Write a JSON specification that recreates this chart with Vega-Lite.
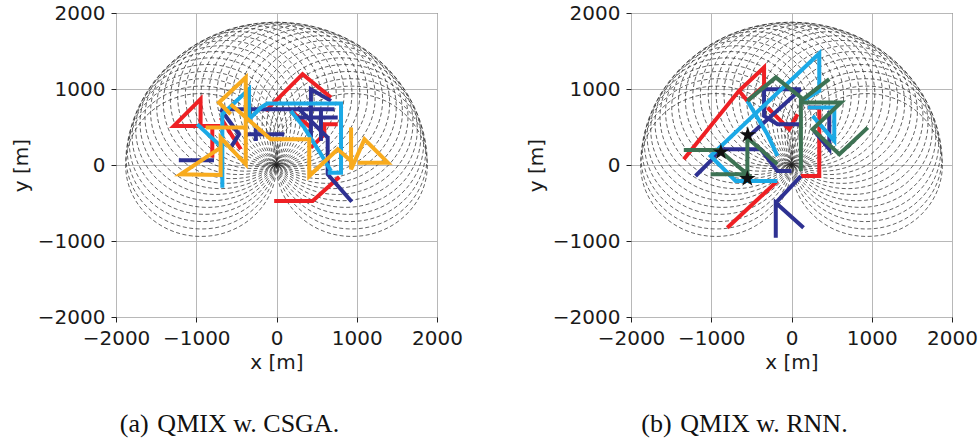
{
"$schema": "https://vega.github.io/schema/vega-lite/v6.json",
"padding": {"left": 10, "top": 2, "right": 5, "bottom": 5},
"bounds": "flush",
"spacing": 194,
"config": {
  "font": "DejaVu Sans",
  "view": {"stroke": "#333333", "strokeWidth": 1},
  "axis": {"grid": true, "gridColor": "#b8b8b8", "gridWidth": 1, "domain": false, "tickColor": "#222222", "tickSize": 5, "labelPadding": 6, "labelFontSize": 20, "labelColor": "#1a1a1a", "titleFontSize": 20, "titleFontWeight": "normal", "titleColor": "#1a1a1a", "labelFlush": false, "labelOverlap": false}
},
"datasets": {
  "circles": [
    {"cx":940,"cy":0,"r":940},{"cx":934.9,"cy":98.3,"r":940},{"cx":919.4,"cy":195.4,"r":940},{"cx":894,"cy":290.5,"r":940},{"cx":858.7,"cy":382.3,"r":940},{"cx":814.1,"cy":470,"r":940},{"cx":760.5,"cy":552.5,"r":940},{"cx":698.5,"cy":629,"r":940},{"cx":629,"cy":698.5,"r":940},{"cx":552.5,"cy":760.5,"r":940},{"cx":470,"cy":814.1,"r":940},{"cx":382.3,"cy":858.7,"r":940},{"cx":290.5,"cy":894,"r":940},{"cx":195.4,"cy":919.4,"r":940},{"cx":98.3,"cy":934.9,"r":940},{"cx":0,"cy":940,"r":940},
    {"cx":-98.3,"cy":934.9,"r":940},{"cx":-195.4,"cy":919.4,"r":940},{"cx":-290.5,"cy":894,"r":940},{"cx":-382.3,"cy":858.7,"r":940},{"cx":-470,"cy":814.1,"r":940},{"cx":-552.5,"cy":760.5,"r":940},{"cx":-629,"cy":698.5,"r":940},{"cx":-698.5,"cy":629,"r":940},{"cx":-760.5,"cy":552.5,"r":940},{"cx":-814.1,"cy":470,"r":940},{"cx":-858.7,"cy":382.3,"r":940},{"cx":-894,"cy":290.5,"r":940},{"cx":-919.4,"cy":195.4,"r":940},{"cx":-934.9,"cy":98.3,"r":940},{"cx":-940,"cy":0,"r":940}
  ],
  "stars": [{"x":-545,"y":395},{"x":-880,"y":170},{"x":-550,"y":-180}],
  "traj": [
    {"p":"a","s":"a1","a":"A1","i":0,"x":-29,"y":-475},{"p":"a","s":"a1","a":"A1","i":1,"x":450,"y":-475},{"p":"a","s":"a1","a":"A1","i":2,"x":783,"y":-158},
    {"p":"a","s":"a2","a":"A1","i":0,"x":429,"y":229},{"p":"a","s":"a2","a":"A1","i":1,"x":596,"y":404},{"p":"a","s":"a2","a":"A1","i":2,"x":596,"y":536},{"p":"a","s":"a2","a":"A1","i":3,"x":763,"y":536},
    {"p":"a","s":"a3","a":"A1","i":0,"x":179,"y":712},{"p":"a","s":"a3","a":"A1","i":1,"x":429,"y":492},
    {"p":"a","s":"a4","a":"A1","i":0,"x":-133,"y":712},{"p":"a","s":"a4","a":"A1","i":1,"x":325,"y":1196},{"p":"a","s":"a4","a":"A1","i":2,"x":679,"y":888},
    {"p":"a","s":"a5","a":"A1","i":0,"x":-696,"y":514},{"p":"a","s":"a5","a":"A1","i":1,"x":-1279,"y":514},{"p":"a","s":"a5","a":"A1","i":2,"x":-946,"y":866},{"p":"a","s":"a5","a":"A1","i":3,"x":-946,"y":514},
    {"p":"a","s":"a6","a":"A1","i":0,"x":-800,"y":514},{"p":"a","s":"a6","a":"A1","i":1,"x":-800,"y":97},
    {"p":"a","s":"a7","a":"A1","i":0,"x":-696,"y":624},{"p":"a","s":"a7","a":"A1","i":1,"x":-446,"y":207},
    {"p":"a","s":"a8","a":"A2","i":0,"x":-1217,"y":62},{"p":"a","s":"a8","a":"A2","i":1,"x":-779,"y":62},
    {"p":"a","s":"a9","a":"A2","i":0,"x":-696,"y":734},{"p":"a","s":"a9","a":"A2","i":1,"x":721,"y":734},
    {"p":"a","s":"a10","a":"A2","i":0,"x":679,"y":844},{"p":"a","s":"a10","a":"A2","i":1,"x":429,"y":998},{"p":"a","s":"a10","a":"A2","i":2,"x":429,"y":360},
    {"p":"a","s":"a11","a":"A2","i":0,"x":554,"y":734},{"p":"a","s":"a11","a":"A2","i":1,"x":554,"y":317},
    {"p":"a","s":"a12","a":"A2","i":0,"x":263,"y":624},{"p":"a","s":"a12","a":"A2","i":1,"x":763,"y":624},
    {"p":"a","s":"a13","a":"A2","i":0,"x":263,"y":756},{"p":"a","s":"a13","a":"A2","i":1,"x":638,"y":360},{"p":"a","s":"a13","a":"A2","i":2,"x":638,"y":-123},{"p":"a","s":"a13","a":"A2","i":3,"x":938,"y":-484},
    {"p":"a","s":"a14","a":"A2","i":0,"x":-383,"y":404},{"p":"a","s":"a14","a":"A2","i":1,"x":96,"y":404},
    {"p":"a","s":"a15","a":"A2","i":0,"x":-258,"y":492},{"p":"a","s":"a15","a":"A2","i":1,"x":-258,"y":316},
    {"p":"a","s":"a16","a":"A2","i":0,"x":-696,"y":734},{"p":"a","s":"a16","a":"A2","i":1,"x":-467,"y":404},{"p":"a","s":"a16","a":"A2","i":2,"x":-571,"y":229},
    {"p":"a","s":"a17","a":"A3","i":0,"x":-675,"y":-299},{"p":"a","s":"a17","a":"A3","i":1,"x":-675,"y":668},{"p":"a","s":"a17","a":"A3","i":2,"x":-342,"y":998},{"p":"a","s":"a17","a":"A3","i":3,"x":-342,"y":602},{"p":"a","s":"a17","a":"A3","i":4,"x":-196,"y":756},{"p":"a","s":"a17","a":"A3","i":5,"x":-113,"y":809},{"p":"a","s":"a17","a":"A3","i":6,"x":804,"y":809},{"p":"a","s":"a17","a":"A3","i":7,"x":804,"y":-101},{"p":"a","s":"a17","a":"A3","i":8,"x":638,"y":-101},
    {"p":"a","s":"a18","a":"A3","i":0,"x":-988,"y":536},{"p":"a","s":"a18","a":"A3","i":1,"x":-675,"y":229},
    {"p":"a","s":"a19","a":"A3","i":0,"x":179,"y":712},{"p":"a","s":"a19","a":"A3","i":1,"x":346,"y":492},{"p":"a","s":"a19","a":"A3","i":2,"x":554,"y":141},{"p":"a","s":"a19","a":"A3","i":3,"x":679,"y":-79},
    {"p":"a","s":"a20","a":"A4","i":0,"x":-696,"y":229},{"p":"a","s":"a20","a":"A4","i":1,"x":-1196,"y":-123},{"p":"a","s":"a20","a":"A4","i":2,"x":-696,"y":-132},{"p":"a","s":"a20","a":"A4","i":3,"x":-696,"y":360},{"p":"a","s":"a20","a":"A4","i":4,"x":-383,"y":9},{"p":"a","s":"a20","a":"A4","i":5,"x":-383,"y":1152},{"p":"a","s":"a20","a":"A4","i":6,"x":-717,"y":822},{"p":"a","s":"a20","a":"A4","i":7,"x":-571,"y":668},
    {"p":"a","s":"a21","a":"A4","i":0,"x":-883,"y":492},{"p":"a","s":"a21","a":"A4","i":1,"x":-404,"y":492},
    {"p":"a","s":"a22","a":"A4","i":0,"x":-571,"y":800},{"p":"a","s":"a22","a":"A4","i":1,"x":-71,"y":338},{"p":"a","s":"a22","a":"A4","i":2,"x":408,"y":338},{"p":"a","s":"a22","a":"A4","i":3,"x":408,"y":-145},{"p":"a","s":"a22","a":"A4","i":4,"x":763,"y":207},{"p":"a","s":"a22","a":"A4","i":5,"x":929,"y":53},
    {"p":"a","s":"a23","a":"A4","i":0,"x":929,"y":492},{"p":"a","s":"a23","a":"A4","i":1,"x":929,"y":-57},{"p":"a","s":"a23","a":"A4","i":2,"x":1096,"y":338},{"p":"a","s":"a23","a":"A4","i":3,"x":1388,"y":31},{"p":"a","s":"a23","a":"A4","i":4,"x":1013,"y":31},

    {"p":"b","s":"b1","a":"A1","i":0,"x":-1342,"y":75},{"p":"b","s":"b1","a":"A1","i":1,"x":-654,"y":976},{"p":"b","s":"b1","a":"A1","i":2,"x":-342,"y":1284},{"p":"b","s":"b1","a":"A1","i":3,"x":-342,"y":1042},{"p":"b","s":"b1","a":"A1","i":4,"x":-550,"y":844},{"p":"b","s":"b1","a":"A1","i":5,"x":-654,"y":976},
    {"p":"b","s":"b2","a":"A1","i":0,"x":-800,"y":-826},{"p":"b","s":"b2","a":"A1","i":1,"x":-175,"y":-211},
    {"p":"b","s":"b3","a":"A1","i":0,"x":-300,"y":756},{"p":"b","s":"b3","a":"A1","i":1,"x":-29,"y":470},{"p":"b","s":"b3","a":"A1","i":2,"x":75,"y":668},
    {"p":"b","s":"b4","a":"A1","i":0,"x":200,"y":756},{"p":"b","s":"b4","a":"A1","i":1,"x":346,"y":756},{"p":"b","s":"b4","a":"A1","i":2,"x":346,"y":-145},{"p":"b","s":"b4","a":"A1","i":3,"x":117,"y":-145},
    {"p":"b","s":"b5","a":"A2","i":0,"x":150,"y":-826},{"p":"b","s":"b5","a":"A2","i":1,"x":-196,"y":-497},{"p":"b","s":"b5","a":"A2","i":2,"x":-196,"y":-958},
    {"p":"b","s":"b6","a":"A2","i":0,"x":-196,"y":-497},{"p":"b","s":"b6","a":"A2","i":1,"x":117,"y":-145},
    {"p":"b","s":"b7","a":"A2","i":0,"x":-1196,"y":-145},{"p":"b","s":"b7","a":"A2","i":1,"x":-988,"y":75},{"p":"b","s":"b7","a":"A2","i":2,"x":-904,"y":207},{"p":"b","s":"b7","a":"A2","i":3,"x":-383,"y":207},{"p":"b","s":"b7","a":"A2","i":4,"x":-175,"y":-79},{"p":"b","s":"b7","a":"A2","i":5,"x":0,"y":-79},
    {"p":"b","s":"b8","a":"A2","i":0,"x":-550,"y":360},{"p":"b","s":"b8","a":"A2","i":1,"x":117,"y":998},
    {"p":"b","s":"b9","a":"A2","i":0,"x":117,"y":998},{"p":"b","s":"b9","a":"A2","i":1,"x":-342,"y":998},{"p":"b","s":"b9","a":"A2","i":2,"x":-342,"y":646},{"p":"b","s":"b9","a":"A2","i":3,"x":-175,"y":536},{"p":"b","s":"b9","a":"A2","i":4,"x":117,"y":536},
    {"p":"b","s":"b10","a":"A2","i":0,"x":471,"y":712},{"p":"b","s":"b10","a":"A2","i":1,"x":471,"y":207},{"p":"b","s":"b10","a":"A2","i":2,"x":283,"y":448},
    {"p":"b","s":"b11","a":"A3","i":0,"x":138,"y":844},{"p":"b","s":"b11","a":"A3","i":1,"x":346,"y":976},{"p":"b","s":"b11","a":"A3","i":2,"x":346,"y":1468},{"p":"b","s":"b11","a":"A3","i":3,"x":-1008,"y":119},{"p":"b","s":"b11","a":"A3","i":4,"x":-696,"y":-211},{"p":"b","s":"b11","a":"A3","i":5,"x":-175,"y":-211},
    {"p":"b","s":"b12","a":"A3","i":0,"x":-550,"y":844},{"p":"b","s":"b12","a":"A3","i":1,"x":-300,"y":404},{"p":"b","s":"b12","a":"A3","i":2,"x":-175,"y":119},
    {"p":"b","s":"b13","a":"A3","i":0,"x":263,"y":646},{"p":"b","s":"b13","a":"A3","i":1,"x":533,"y":317},{"p":"b","s":"b13","a":"A3","i":2,"x":533,"y":756},{"p":"b","s":"b13","a":"A3","i":3,"x":200,"y":756},
    {"p":"b","s":"b14","a":"A5","i":0,"x":-1342,"y":198},{"p":"b","s":"b14","a":"A5","i":1,"x":-904,"y":198},{"p":"b","s":"b14","a":"A5","i":2,"x":-550,"y":-123},{"p":"b","s":"b14","a":"A5","i":3,"x":-1008,"y":-123},
    {"p":"b","s":"b15","a":"A5","i":0,"x":-550,"y":-123},{"p":"b","s":"b15","a":"A5","i":1,"x":-550,"y":360},{"p":"b","s":"b15","a":"A5","i":2,"x":-175,"y":9},
    {"p":"b","s":"b16","a":"A5","i":0,"x":-550,"y":844},{"p":"b","s":"b16","a":"A5","i":1,"x":-196,"y":1152},{"p":"b","s":"b16","a":"A5","i":2,"x":117,"y":888},{"p":"b","s":"b16","a":"A5","i":3,"x":117,"y":-79},
    {"p":"b","s":"b17","a":"A5","i":0,"x":117,"y":844},{"p":"b","s":"b17","a":"A5","i":1,"x":471,"y":1130},
    {"p":"b","s":"b18","a":"A5","i":0,"x":117,"y":822},{"p":"b","s":"b18","a":"A5","i":1,"x":617,"y":822},{"p":"b","s":"b18","a":"A5","i":2,"x":263,"y":470},{"p":"b","s":"b18","a":"A5","i":3,"x":596,"y":141},{"p":"b","s":"b18","a":"A5","i":4,"x":950,"y":492}
  ]
},
"hconcat": [
  {
    "width": 321, "height": 304,
    "title": {"text": "(a) \u200aQMIX w. CSGA.", "orient": "bottom", "font": "Liberation Serif", "fontSize": 26, "fontWeight": "normal", "color": "#111111", "offset": 39, "dx": -47},
    "layer": [
      {"data": {"name": "circles"},
       "mark": {"type": "point", "shape": "M1,0C1,0.523,0.552,0.947,0,0.947C-0.552,0.947,-1,0.523,-1,0C-1,-0.523,-0.552,-0.947,0,-0.947C0.552,-0.947,1,-0.523,1,0Z", "filled": false, "color": "#222222", "strokeWidth": 0.7, "strokeDash": [4, 2.5], "opacity": 1},
       "encoding": {
         "x": {"field": "cx", "type": "quantitative", "scale": {"domain": [-2000, 2000], "nice": false, "zero": false}, "axis": {"values": [-2000, -1000, 0, 1000, 2000], "format": "d", "title": "x [m]"}},
         "y": {"field": "cy", "type": "quantitative", "scale": {"domain": [-2000, 2000], "nice": false, "zero": false}, "axis": {"values": [-2000, -1000, 0, 1000, 2000], "format": "d", "title": "y [m]", "titlePadding": 6}},
         "size": {"field": "r", "type": "quantitative", "scale": {"type": "pow", "exponent": 2, "domain": [0, 1000], "range": [0, 25760]}, "legend": null}
       }},
      {"data": {"name": "traj"},
       "transform": [{"filter": "datum.p == 'a'"}],
       "mark": {"type": "line", "strokeWidth": 4},
       "encoding": {
         "x": {"field": "x", "type": "quantitative", "scale": {"domain": [-2000, 2000], "nice": false, "zero": false}},
         "y": {"field": "y", "type": "quantitative", "scale": {"domain": [-2000, 2000], "nice": false, "zero": false}},
         "color": {"field": "a", "type": "nominal", "scale": {"domain": ["A1", "A2", "A3", "A4", "A5"], "range": ["#ee2024", "#2e3192", "#1ba9e6", "#f8ab1e", "#3d7253"]}, "legend": null},
         "detail": {"field": "s"},
         "order": {"field": "i", "type": "quantitative"}
       }}
    ]
  },
  {
    "width": 321, "height": 304,
    "title": {"text": "(b) \u200aQMIX w. RNN.", "orient": "bottom", "font": "Liberation Serif", "fontSize": 26, "fontWeight": "normal", "color": "#111111", "offset": 39, "dx": -47},
    "layer": [
      {"data": {"name": "circles"},
       "mark": {"type": "point", "shape": "M1,0C1,0.523,0.552,0.947,0,0.947C-0.552,0.947,-1,0.523,-1,0C-1,-0.523,-0.552,-0.947,0,-0.947C0.552,-0.947,1,-0.523,1,0Z", "filled": false, "color": "#222222", "strokeWidth": 0.7, "strokeDash": [4, 2.5], "opacity": 1},
       "encoding": {
         "x": {"field": "cx", "type": "quantitative", "scale": {"domain": [-2000, 2000], "nice": false, "zero": false}, "axis": {"values": [-2000, -1000, 0, 1000, 2000], "format": "d", "title": "x [m]"}},
         "y": {"field": "cy", "type": "quantitative", "scale": {"domain": [-2000, 2000], "nice": false, "zero": false}, "axis": {"values": [-2000, -1000, 0, 1000, 2000], "format": "d", "title": "y [m]", "titlePadding": 6}},
         "size": {"field": "r", "type": "quantitative", "scale": {"type": "pow", "exponent": 2, "domain": [0, 1000], "range": [0, 25760]}, "legend": null}
       }},
      {"data": {"name": "traj"},
       "transform": [{"filter": "datum.p == 'b'"}],
       "mark": {"type": "line", "strokeWidth": 4},
       "encoding": {
         "x": {"field": "x", "type": "quantitative", "scale": {"domain": [-2000, 2000], "nice": false, "zero": false}},
         "y": {"field": "y", "type": "quantitative", "scale": {"domain": [-2000, 2000], "nice": false, "zero": false}},
         "color": {"field": "a", "type": "nominal", "scale": {"domain": ["A1", "A2", "A3", "A4", "A5"], "range": ["#ee2024", "#2e3192", "#1ba9e6", "#f8ab1e", "#3d7253"]}, "legend": null},
         "detail": {"field": "s"},
         "order": {"field": "i", "type": "quantitative"}
       }},
      {"data": {"name": "stars"},
       "mark": {"type": "point", "shape": "M0,-1L0.2245,-0.309L0.9511,-0.309L0.3633,0.118L0.5878,0.809L0,0.382L-0.5878,0.809L-0.3633,0.118L-0.9511,-0.309L-0.2245,-0.309Z", "filled": true, "color": "#111111", "size": 300, "opacity": 1},
       "encoding": {
         "x": {"field": "x", "type": "quantitative", "scale": {"domain": [-2000, 2000], "nice": false, "zero": false}},
         "y": {"field": "y", "type": "quantitative", "scale": {"domain": [-2000, 2000], "nice": false, "zero": false}}
       }}
    ]
  }
]
}
